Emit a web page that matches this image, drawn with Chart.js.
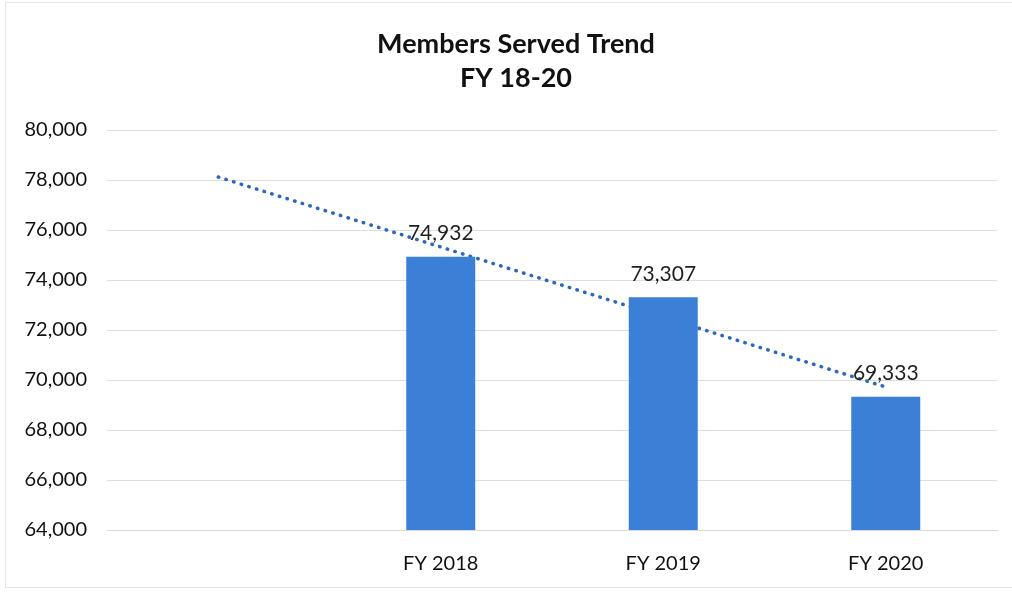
<!DOCTYPE html>
<html>
<head>
<meta charset="utf-8">
<title>Members Served Trend</title>
<script src="https://cdn.jsdelivr.net/npm/chart.js@4/dist/chart.umd.min.js"></script>
<style>
  body { margin: 0; background: #fff; }
  canvas { display: block; }
</style>
</head>
<body>
<canvas id="trend-chart" width="1012" height="593"></canvas>
<script>
// first category is left blank so the trendline has room to start
const categories = ['', 'FY 2018', 'FY 2019', 'FY 2020'];
const membersServed = [null, 74932, 73307, 69333];
const trendValues = [78120, 75320, 72520, 69720];
const yTicks = [64000, 66000, 68000, 70000, 72000, 74000, 76000, 78000, 80000];
const titleLines = ['Members Served Trend', 'FY 18-20'];

const fontFamily = 'Lato, "Open Sans", sans-serif';

function fmt(v) {
  return v.toLocaleString('en-US');
}

// white background + faint frame around the whole chart
const framePlugin = {
  id: 'frame',
  beforeDraw: function(chart) {
    const ctx = chart.ctx;
    ctx.save();
    ctx.fillStyle = '#ffffff';
    ctx.fillRect(0, 0, chart.width, chart.height);
    ctx.strokeStyle = '#e4e4e4';
    ctx.lineWidth = 1;
    ctx.strokeRect(5.5, 2.5, 1010, 585);
    ctx.restore();
  }
};

// two-line bold title, sits a bit right of the canvas centre
const titlePlugin = {
  id: 'twoLineTitle',
  afterDraw: function(chart) {
    const ctx = chart.ctx;
    ctx.save();
    ctx.font = 'bold 27px ' + fontFamily;
    ctx.fillStyle = '#111111';
    ctx.textAlign = 'center';
    ctx.textBaseline = 'middle';
    titleLines.forEach(function(line, i) {
      ctx.fillText(line, 516, 44 + i * 34);
    });
    ctx.restore();
  }
};

// value labels above each bar
const valueLabels = {
  id: 'valueLabels',
  afterDatasetsDraw: function(chart) {
    const ctx = chart.ctx;
    const meta = chart.getDatasetMeta(0);
    ctx.save();
    ctx.font = '21px ' + fontFamily;
    ctx.fillStyle = '#1f1f1f';
    ctx.textAlign = 'center';
    ctx.textBaseline = 'middle';
    meta.data.forEach(function(bar, i) {
      const v = membersServed[i];
      if (v == null) return;
      ctx.fillText(fmt(v), bar.x, bar.y - 23);
    });
    ctx.restore();
  }
};

const ctx = document.getElementById('trend-chart').getContext('2d');
new Chart(ctx, {
  type: 'bar',
  data: {
    labels: categories,
    datasets: [
      {
        label: 'Members Served',
        data: membersServed,
        backgroundColor: '#3b7fd6',
        barPercentage: 0.31,
        categoryPercentage: 1,
        order: 1
      },
      {
        type: 'line',
        label: 'Trend',
        data: trendValues,
        borderColor: '#2b67bf',
        borderWidth: 3.5,
        borderDash: [0.5, 7.5],
        borderCapStyle: 'round',
        pointRadius: 0,
        fill: false,
        order: 2
      }
    ]
  },
  options: {
    responsive: false,
    animation: false,
    layout: { padding: { left: 0, right: 15, top: 130, bottom: 0 } },
    plugins: {
      legend: { display: false },
      tooltip: { enabled: false },
      title: { display: false }
    },
    scales: {
      x: {
        grid: { display: false, drawTicks: false },
        border: { display: true, color: '#d9d9d9' },
        ticks: {
          color: '#111111',
          padding: 22,
          font: { family: fontFamily, size: 20 }
        },
        afterFit: function(scale) { scale.height = 63; }
      },
      y: {
        min: 64000,
        max: 80000,
        grid: { color: '#dedede', lineWidth: 1, drawTicks: false },
        border: { display: false },
        afterBuildTicks: function(scale) {
          scale.ticks = yTicks.map(function(v) { return { value: v }; });
        },
        ticks: {
          color: '#111111',
          padding: 20,
          font: { family: fontFamily, size: 20 },
          callback: function(v) { return fmt(v); }
        },
        afterFit: function(scale) { scale.width = 107; }
      }
    }
  },
  plugins: [framePlugin, titlePlugin, valueLabels]
});
</script>
</body>
</html>
